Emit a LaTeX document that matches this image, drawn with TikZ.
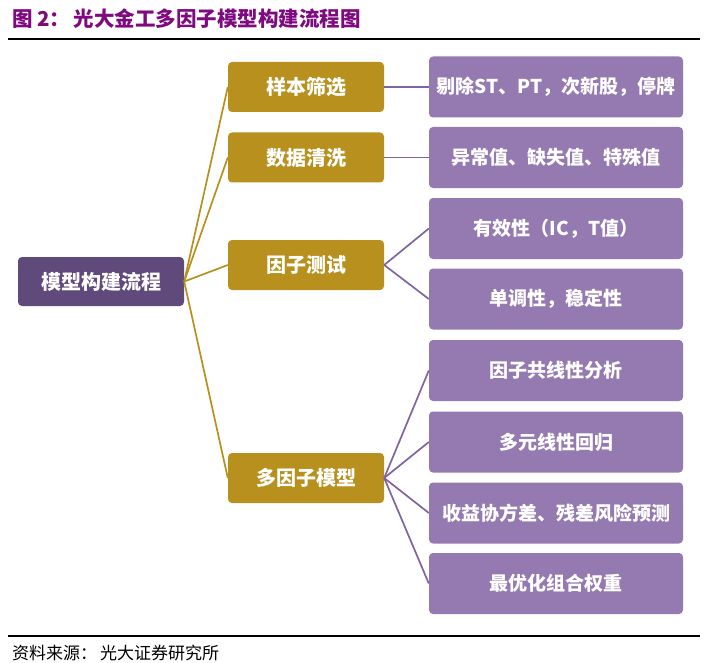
\documentclass[tikz,border=0pt]{standalone}
\usepackage{fontspec}
\usepackage{xcolor}
\newfontfamily\cjk{Noto Sans CJK SC}
\usetikzlibrary{positioning}
\definecolor{kroot}{HTML}{604A7B}
\definecolor{kgold}{HTML}{B8901E}
\definecolor{kitem}{HTML}{957AB1}
\definecolor{kline}{HTML}{8064A2}
\definecolor{ktitle}{HTML}{7F0A7F}

\begin{document}
\begin{tikzpicture}[x=1pt, y=-1pt,
  rootbox/.style={fill=kroot, text=white, rounded corners=4pt, inner sep=0pt,
    minimum width=166pt, minimum height=49pt, font=\cjk\bfseries\fontsize{20}{24}\selectfont},
  stagebox/.style={fill=kgold, text=white, rounded corners=4pt, inner sep=0pt,
    minimum width=156pt, minimum height=50pt, font=\cjk\bfseries\fontsize{20}{24}\selectfont},
  itembox/.style={fill=kitem, text=white, rounded corners=4pt, inner sep=0pt,
    minimum width=254pt, minimum height=61pt, font=\cjk\bfseries\fontsize{19}{23}\selectfont},
  goldline/.style={draw=kgold, line width=1.7pt},
  itemline/.style={draw=kline, line width=1.7pt}]
\useasboundingbox (0,0) rectangle (706,663);
\fill[white] (0,0) rectangle (706,663);
% title and rules
\node[font=\cjk\bfseries\fontsize{20.5}{24}\selectfont, text=ktitle, anchor=west, inner sep=0pt]
  (title) at (12,19) {图 2：\,光大金工多因子模型构建流程图};
\draw[line width=1.2pt] (8,39) -- (700,39);
\draw[line width=1.2pt] (8,636) -- (700,636);
\node[font=\cjk\fontsize{17}{20}\selectfont, anchor=west, inner sep=0pt]
  (source) at (12,653) {资料来源：\,光大证券研究所};
% root
\node[rootbox] (root) at (101,281.5) {模型构建流程};
% stages
\node[stagebox] (sample) at (306,87) {样本筛选};
\node[stagebox] (clean) at (306,157.5) {数据清洗};
\node[stagebox] (test) at (306,265) {因子测试};
\node[stagebox] (model) at (306,478) {多因子模型};
% items
\node[itembox] (i1) at (556,87) {剔除ST、PT，次新股，停牌};
\node[itembox] (i2) at (556,157.5) {异常值、缺失值、特殊值};
\node[itembox] (i3) at (556,228.5) {有效性（IC，T值）};
\node[itembox] (i4) at (556,299) {单调性，稳定性};
\node[itembox] (i5) at (556,370.5) {因子共线性分析};
\node[itembox] (i6) at (556,442) {多元线性回归};
\node[itembox] (i7) at (556,513) {收益协方差、残差风险预测};
\node[itembox] (i8) at (556,583.5) {最优化组合权重};
% connectors
\foreach \s in {sample, clean, test, model}
  \draw[goldline] (root.east) -- (\s.west);
\draw[itemline] (sample.east) -- (i1.west);
\draw[itemline] (clean.east) -- (i2.west);
\foreach \i in {i3, i4}
  \draw[itemline] (test.east) -- (\i.west);
\foreach \i in {i5, i6, i7, i8}
  \draw[itemline] (model.east) -- (\i.west);
\end{tikzpicture}
\end{document}
